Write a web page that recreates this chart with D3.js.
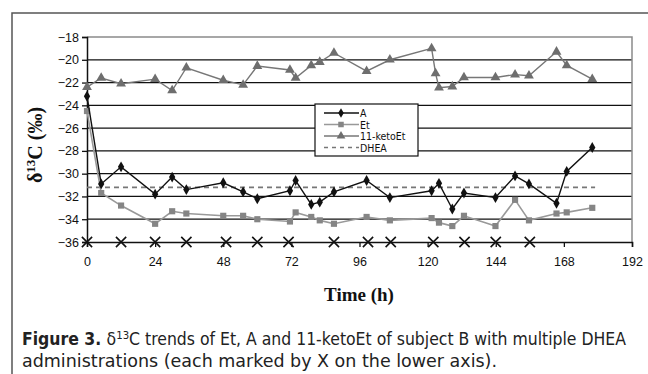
<!DOCTYPE html>
<html>
<head>
<meta charset="utf-8">
<script src="https://cdn.jsdelivr.net/npm/d3@7"></script>
<style>
  body { margin: 0; background: #fff; }
</style>
</head>
<body>
<div id="chart"></div>
<script>
// Data
const times = [0, 5, 12, 24, 30, 35, 48, 55, 60, 71.5, 73.5, 79, 82, 87, 98.5, 106.7, 121.4, 122.8, 124, 128.7, 132.8, 143.9, 150.8, 155.7, 165.4, 169, 178];
const seriesA = [-23.2, -30.9, -29.4, -31.8, -30.3, -31.4, -30.8, -31.6, -32.2, -31.5, -30.6, -32.7, -32.5, -31.6, -30.6, -32.1, -31.5, null, -30.85, -33.1, -31.7, -32.1, -30.2, -30.9, -32.6, -29.8, -27.7];
const seriesEt = [-24.5, -31.7, -32.8, -34.4, -33.3, -33.5, -33.7, -33.7, -34.0, -34.2, -33.4, -33.8, -34.1, -34.4, -33.8, -34.1, -33.9, null, -34.3, -34.6, -33.7, -34.6, -32.3, -34.1, -33.5, -33.4, -33.0];
const seriesKeto = [-22.4, -21.6, -22.1, -21.7, -22.7, -20.7, -21.8, -22.2, -20.55, -20.9, -21.6, -20.5, -20.2, -19.4, -21.0, -20.0, -19.0, -21.2, -22.45, -22.35, -21.55, -21.55, -21.3, -21.4, -19.3, -20.5, -21.7];
const dheaLevel = -31.2;
const dheaEnd = 179;
const doseTimes = [0, 12, 24, 35, 49, 60, 71, 87, 99, 107, 122, 133, 144, 156];
const xTicks = [0, 24, 48, 72, 96, 120, 144, 168, 192];
const yTicks = [-36, -34, -32, -30, -28, -26, -24, -22, -20, -18];

const width = 648;
const height = 374;
const sans = '"Liberation Sans", Arial, sans-serif';
const narrow = '"DejaVu Sans", sans-serif';
const serif = '"Liberation Serif", "Times New Roman", serif';

const svg = d3.select('#chart')
    .append('svg')
    .attr('width', width)
    .attr('height', height);

// Outer frame
svg.append('rect')
    .attr('x', 12).attr('y', 13)
    .attr('width', 700).attr('height', 420)
    .attr('fill', 'none')
    .attr('stroke', '#555')
    .attr('stroke-width', 1.5);

// Scales
const x = d3.scaleLinear().domain([0, 192]).range([87, 632]);
const y = d3.scaleLinear().domain([-36, -18]).range([242, 37]);

// Grid lines
svg.append('g')
    .selectAll('line')
    .data(yTicks.filter(v => v > -36 && v < -18))
    .enter()
    .append('line')
    .attr('x1', x(0)).attr('x2', x(192))
    .attr('y1', d => y(d)).attr('y2', d => y(d))
    .attr('stroke', '#111')
    .attr('stroke-width', 1.3);

// Plot frame (top and right, gray)
svg.append('path')
    .attr('d', `M${x(0)},${y(-18)}H${x(192)}V${y(-36)}`)
    .attr('fill', 'none')
    .attr('stroke', '#8a8a8a')
    .attr('stroke-width', 1.5);

// Axes
const xAxis = svg.append('g')
    .attr('transform', `translate(0,${y(-36)})`)
    .call(d3.axisBottom(x).tickValues(xTicks).tickSize(5).tickPadding(10).tickFormat(d3.format('d')));
const yAxis = svg.append('g')
    .attr('transform', `translate(${x(0)},0)`)
    .call(d3.axisLeft(y).tickValues(yTicks).tickSize(5).tickPadding(3).tickFormat(d => '\u2212' + Math.abs(d)));
[xAxis, yAxis].forEach(g => {
    g.attr('font-family', sans).attr('font-size', 12.5);
    g.select('.domain').attr('stroke', '#111').attr('stroke-width', 1.5);
    g.selectAll('.tick line').attr('stroke', '#111').attr('stroke-width', 1.3);
    g.selectAll('.tick text').attr('fill', '#111');
});

// DHEA dashed line
svg.append('line')
    .attr('x1', x(0)).attr('x2', x(dheaEnd))
    .attr('y1', y(dheaLevel)).attr('y2', y(dheaLevel))
    .attr('stroke', '#777')
    .attr('stroke-width', 1.6)
    .attr('stroke-dasharray', '5,4');

// Lines
const series = [
    { name: 'A', values: seriesA, line: '#111', fill: '#111', symbol: d3.symbolDiamond, size: 34, width: 1.4 },
    { name: 'Et', values: seriesEt, line: '#999', fill: '#858585', symbol: d3.symbolSquare, size: 38, width: 1.6 },
    { name: '11-ketoEt', values: seriesKeto, line: '#777', fill: '#6e6e6e', symbol: d3.symbolTriangle, size: 42, width: 1.4 }
];

const line = d3.line()
    .x(d => x(d[0]))
    .y(d => y(d[1]));

series.slice().reverse().forEach(s => {
    const pts = times.map((t, i) => [t, s.values[i]]).filter(d => d[1] !== null);
    svg.append('path')
        .datum(pts)
        .attr('d', line)
        .attr('fill', 'none')
        .attr('stroke', s.line)
        .attr('stroke-width', s.width);
    svg.append('g')
        .selectAll('path')
        .data(pts)
        .enter()
        .append('path')
        .attr('transform', d => `translate(${x(d[0])},${y(d[1])})`)
        .attr('d', d3.symbol().type(s.symbol).size(s.size))
        .attr('fill', s.fill);
});

// Dose markers (X)
svg.append('g')
    .selectAll('path')
    .data(doseTimes)
    .enter()
    .append('path')
    .attr('transform', d => `translate(${x(d)},${y(-36)})`)
    .attr('d', d3.symbol().type(d3.symbolTimes).size(70))
    .attr('fill', 'none')
    .attr('stroke', '#111')
    .attr('stroke-width', 1.6);

// Legend
const legend = svg.append('g').attr('transform', 'translate(315,104)');
legend.append('rect')
    .attr('width', 103).attr('height', 52)
    .attr('fill', '#fff')
    .attr('stroke', '#111')
    .attr('stroke-width', 1.2);
const legendItems = series.map(s => ({ name: s.name, s: s })).concat([{ name: 'DHEA', s: null }]);
legendItems.forEach((d, i) => {
    const row = legend.append('g').attr('transform', `translate(0,${9 + i * 11.5})`);
    if (d.s) {
        row.append('line')
            .attr('x1', 9).attr('x2', 44)
            .attr('stroke', d.s.line).attr('stroke-width', d.s.width);
        row.append('path')
            .attr('transform', 'translate(26,0)')
            .attr('d', d3.symbol().type(d.s.symbol).size(d.s.size * 0.8))
            .attr('fill', d.s.fill);
    } else {
        row.append('line')
            .attr('x1', 9).attr('x2', 44)
            .attr('stroke', '#777').attr('stroke-width', 1.4)
            .attr('stroke-dasharray', '4,4');
    }
    row.append('text')
        .attr('x', 45).attr('y', 4)
        .attr('font-size', 10.5)
        .attr('font-family', narrow)
        .attr('font-stretch', 'condensed')
        .attr('fill', '#111')
        .text(d.name);
});

// Axis titles
svg.append('text')
    .attr('x', 359).attr('y', 301)
    .attr('text-anchor', 'middle')
    .attr('font-family', serif)
    .attr('font-weight', 'bold')
    .attr('font-size', 19)
    .attr('fill', '#111')
    .text('Time (h)');

const yTitle = svg.append('text')
    .attr('transform', 'translate(42,145) rotate(-90)')
    .attr('text-anchor', 'middle')
    .attr('font-family', serif)
    .attr('font-weight', 'bold')
    .attr('font-size', 20)
    .attr('fill', '#111');
yTitle.append('tspan').text('δ');
yTitle.append('tspan').attr('font-size', 13).attr('dy', -7).text('13');
yTitle.append('tspan').attr('dy', 7).text('C (‰)');

// Caption
const cap1 = svg.append('text')
    .attr('x', 22).attr('y', 345)
    .attr('font-family', narrow)
    .attr('font-stretch', 'condensed')
    .attr('font-size', 17)
    .attr('fill', '#222')
    .attr('textLength', 604)
    .attr('lengthAdjust', 'spacingAndGlyphs');
cap1.append('tspan').attr('font-weight', 'bold').text('Figure 3. ');
cap1.append('tspan').text('δ');
cap1.append('tspan').attr('font-size', 11).attr('dy', -6).text('13');
cap1.append('tspan').attr('dy', 6).text('C trends of Et, A and 11-ketoEt of subject B with multiple DHEA');

svg.append('text')
    .attr('x', 22).attr('y', 367)
    .attr('font-family', narrow)
    .attr('font-stretch', 'condensed')
    .attr('font-size', 17)
    .attr('fill', '#222')
    .attr('textLength', 475)
    .attr('lengthAdjust', 'spacingAndGlyphs')
    .text('administrations (each marked by X on the lower axis).');
</script>
</body>
</html>
